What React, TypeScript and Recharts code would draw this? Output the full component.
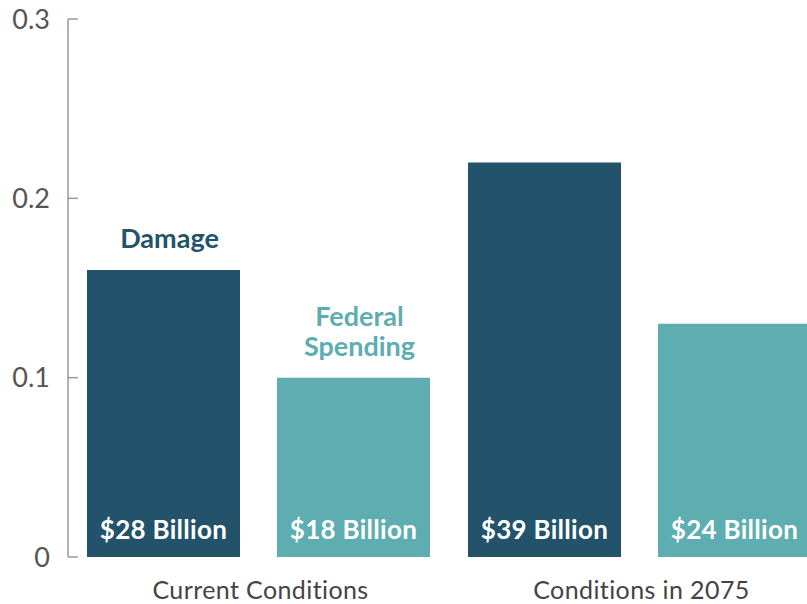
import React from "react";
import { BarChart, Bar, XAxis, YAxis, LabelList } from "recharts";

const categories = ["Current Conditions", "Conditions in 2075"];
const damageValues = [0.16, 0.22];
const federalValues = [0.1, 0.13];
const damageLabels = ["$28 Billion", "$39 Billion"];
const federalLabels = ["$18 Billion", "$24 Billion"];
const seriesNames = ["Damage", "Federal Spending"];
const yTicks = [0, 0.1, 0.2, 0.3];
const yTickLabels = ["0", "0.1", "0.2", "0.3"];

const DARK = "#23536b";
const TEAL = "#5eadb0";
const FONT = "Lato, 'Open Sans', sans-serif";

const data = categories.map((c, i) => ({
  category: c,
  damage: damageValues[i],
  federal: federalValues[i],
  damageLabel: damageLabels[i],
  federalLabel: federalLabels[i],
}));

const InsideLabel = (props: any) => {
  const { x, y, width, height, value } = props;
  return (
    <text
      x={Number(x) + Number(width) / 2}
      y={Number(y) + Number(height) - 18}
      textAnchor="middle"
      fill="#ffffff"
      fontFamily={FONT}
      fontWeight={700}
      fontSize={26}
      letterSpacing={0.3}
    >
      {value}
    </text>
  );
};

const makeTopLabel = (name: string, color: string) => (props: any) => {
  const { x, y, width, index } = props;
  if (index !== 0) return null;
  const words = name.split(" ");
  const cx = Number(x) + Number(width) / 2 + 6;
  const n = words.length;
  return (
    <text
      textAnchor="middle"
      fill={color}
      fontFamily={FONT}
      fontWeight={700}
      fontSize={27}
    >
      {words.map((w, i) => (
        <tspan key={i} x={cx} y={Number(y) - 22 - (n - 1 - i) * 30}>
          {w}
        </tspan>
      ))}
    </text>
  );
};

const CategoryTick = (props: any) => {
  const { x, y, payload } = props;
  return (
    <text
      x={Number(x) + 2}
      y={Number(y) + 42}
      textAnchor="middle"
      fill="#444"
      fontFamily={FONT}
      fontSize={25}
      letterSpacing={0.4}
    >
      {payload.value}
    </text>
  );
};

export default function App() {
  return (
    <div
      style={{
        position: "absolute",
        left: 0,
        top: 0,
        width: 807,
        height: 604,
        overflow: "hidden",
        background: "#fff",
      }}
    >
      <BarChart
        width={840}
        height={604}
        data={data}
        margin={{ top: 19, right: 10, left: 0, bottom: 0 }}
        barCategoryGap={19}
        barGap={37}
      >
        <XAxis
          dataKey="category"
          axisLine={false}
          tickLine={false}
          tickSize={0}
          tickMargin={0}
          height={47}
          tick={<CategoryTick />}
        />
        <YAxis
          domain={[0, 0.3]}
          ticks={yTicks}
          tickFormatter={(v: number) => yTickLabels[yTicks.indexOf(v)] ?? String(v)}
          width={68}
          axisLine={{ stroke: "#999", strokeWidth: 1.5 }}
          tickLine={{ stroke: "#999", strokeWidth: 1.5 }}
          tickSize={-10}
          tickMargin={28}
          tick={{ fontSize: 27, fill: "#555", fontFamily: FONT }}
        />
        <Bar dataKey="damage" fill={DARK} isAnimationActive={false}>
          <LabelList dataKey="damageLabel" content={InsideLabel} />
          <LabelList dataKey="damage" content={makeTopLabel(seriesNames[0], DARK)} />
        </Bar>
        <Bar dataKey="federal" fill={TEAL} isAnimationActive={false}>
          <LabelList dataKey="federalLabel" content={InsideLabel} />
          <LabelList dataKey="federal" content={makeTopLabel(seriesNames[1], TEAL)} />
        </Bar>
      </BarChart>
    </div>
  );
}
